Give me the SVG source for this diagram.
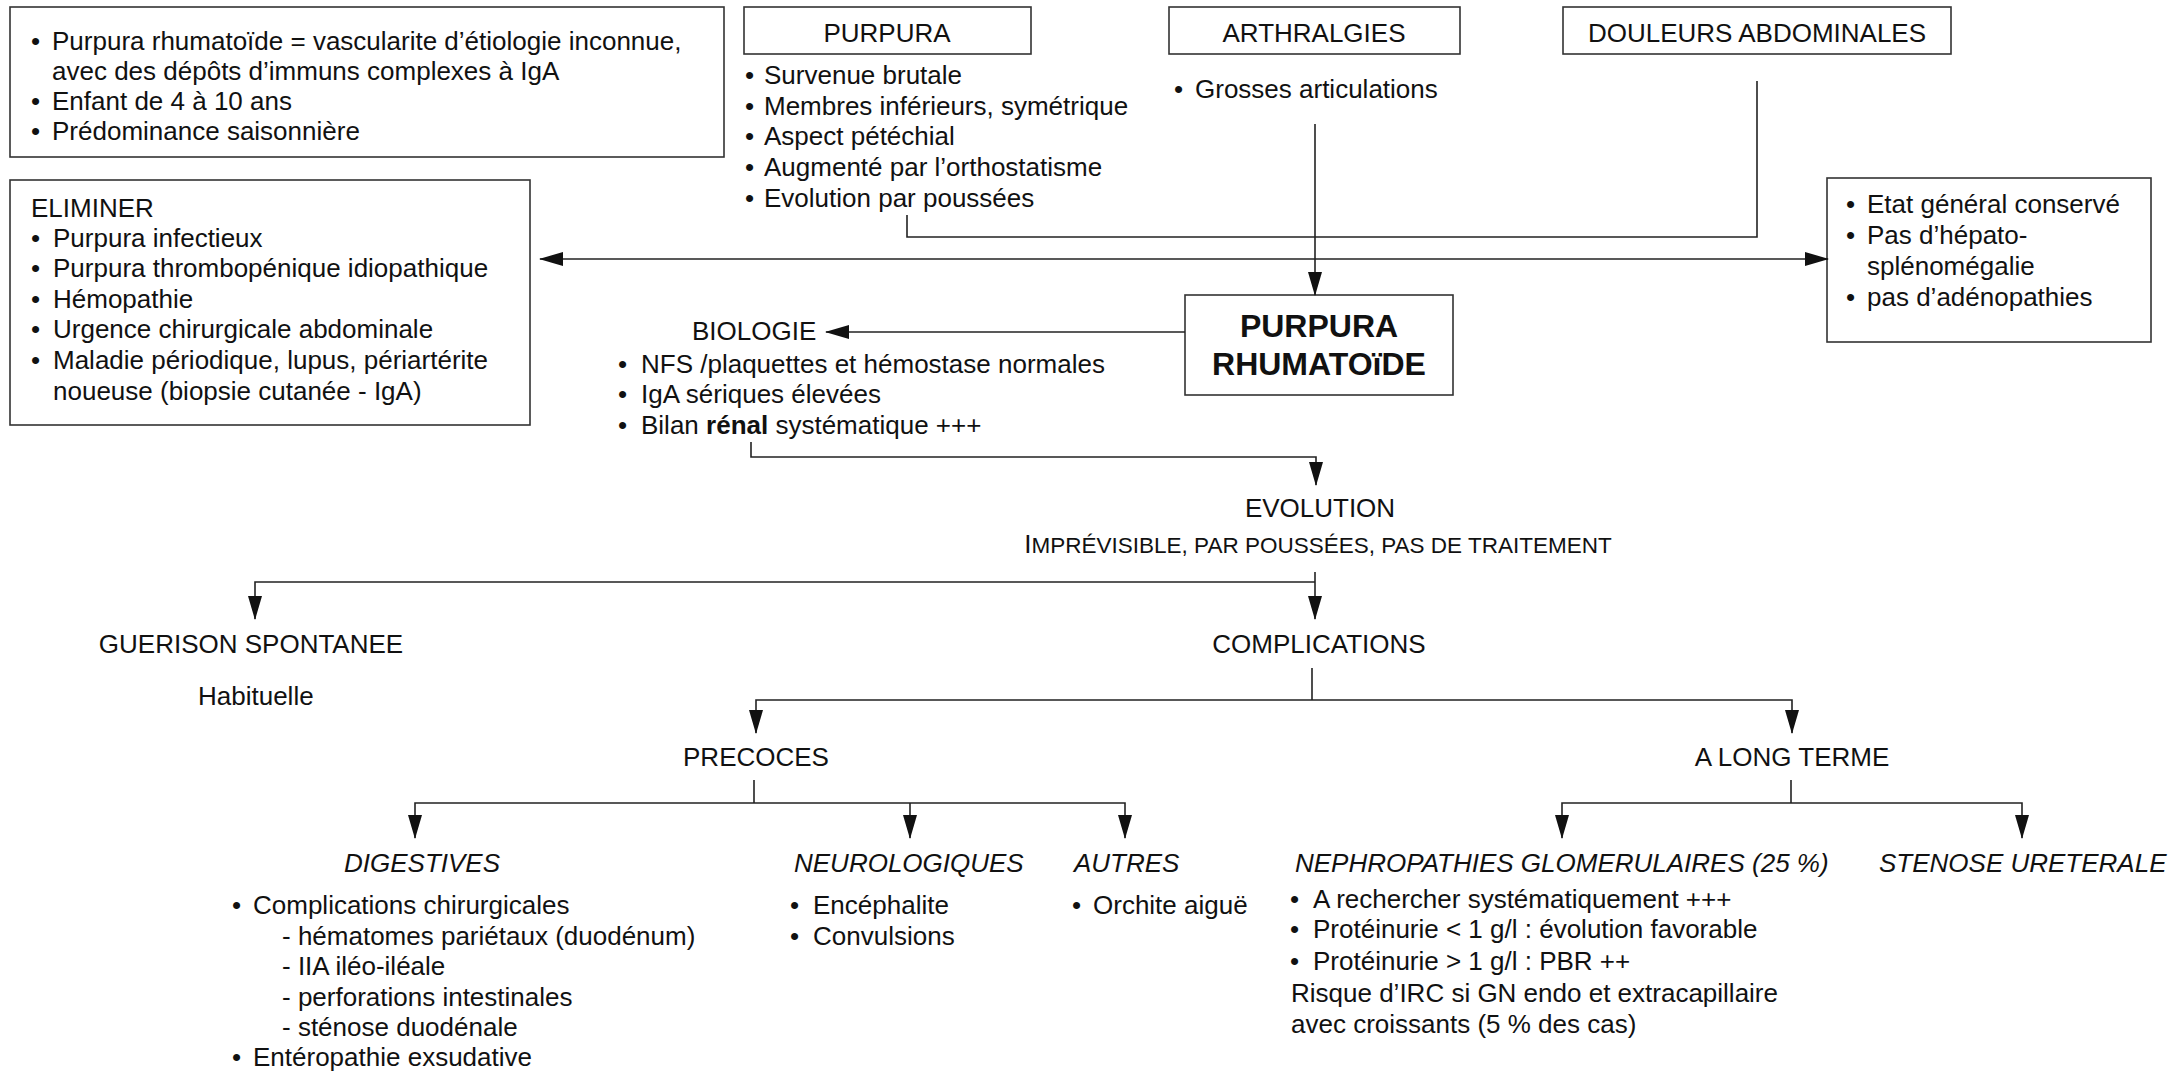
<svg xmlns="http://www.w3.org/2000/svg" width="2181" height="1072" viewBox="0 0 2181 1072">
<style>
.bg{fill:#fff}
.box{fill:#fff;stroke:#333;stroke-width:1.6}
.t{font-family:"Liberation Sans",Arial,sans-serif;font-size:26px;fill:#111}
.m{text-anchor:middle}
.i{font-style:italic}
.b{font-weight:bold}
.big{font-size:32px;font-weight:bold}
.c{fill:none;stroke:#222;stroke-width:1.6}
</style>
<defs>
<marker id="ah" markerWidth="24" markerHeight="14" refX="23" refY="7" orient="auto-start-reverse" markerUnits="userSpaceOnUse">
<path d="M0,0 L24,7 L0,14 z" fill="#111"/>
</marker>
</defs>
<rect class="bg" x="0" y="0" width="2181" height="1072"/>

<g id="intro">
<rect class="box" x="10" y="7" width="714" height="150"/>
<text class="t"><tspan x="31" y="50">•</tspan><tspan x="52" y="50">Purpura rhumatoïde = vascularite d’étiologie inconnue,</tspan><tspan x="52" y="80">avec des dépôts d’immuns complexes à IgA</tspan><tspan x="31" y="110">•</tspan><tspan x="52" y="110">Enfant de 4 à 10 ans</tspan><tspan x="31" y="140">•</tspan><tspan x="52" y="140">Prédominance saisonnière</tspan></text>
</g>

<g id="purpura">
<rect class="box" x="744" y="7" width="287" height="47"/>
<text class="t m" x="887" y="42">PURPURA</text>
<text class="t"><tspan x="745" y="84">•</tspan><tspan x="764" y="84">Survenue brutale</tspan><tspan x="745" y="115">•</tspan><tspan x="764" y="115">Membres inférieurs, symétrique</tspan><tspan x="745" y="145">•</tspan><tspan x="764" y="145">Aspect pétéchial</tspan><tspan x="745" y="176">•</tspan><tspan x="764" y="176">Augmenté par l’orthostatisme</tspan><tspan x="745" y="207">•</tspan><tspan x="764" y="207">Evolution par poussées</tspan></text>
</g>

<g id="arthralgies">
<rect class="box" x="1169" y="7" width="291" height="47"/>
<text class="t m" x="1314" y="42">ARTHRALGIES</text>
<text class="t"><tspan x="1174" y="98">•</tspan><tspan x="1195" y="98">Grosses articulations</tspan></text>
</g>

<g id="douleurs">
<rect class="box" x="1563" y="7" width="388" height="47"/>
<text class="t m" x="1757" y="42">DOULEURS ABDOMINALES</text>
</g>

<g id="general">
<rect class="box" x="1827" y="178" width="324" height="164"/>
<text class="t"><tspan x="1846" y="213">•</tspan><tspan x="1867" y="213">Etat général conservé</tspan><tspan x="1846" y="244">•</tspan><tspan x="1867" y="244">Pas d’hépato-</tspan><tspan x="1867" y="275">splénomégalie</tspan><tspan x="1846" y="306">•</tspan><tspan x="1867" y="306">pas d’adénopathies</tspan></text>
</g>

<g id="eliminer">
<rect class="box" x="10" y="180" width="520" height="245"/>
<text class="t"><tspan x="31" y="217">ELIMINER</tspan><tspan x="31" y="247">•</tspan><tspan x="53" y="247">Purpura infectieux</tspan><tspan x="31" y="277">•</tspan><tspan x="53" y="277">Purpura thrombopénique idiopathique</tspan><tspan x="31" y="308">•</tspan><tspan x="53" y="308">Hémopathie</tspan><tspan x="31" y="338">•</tspan><tspan x="53" y="338">Urgence chirurgicale abdominale</tspan><tspan x="31" y="369">•</tspan><tspan x="53" y="369">Maladie périodique, lupus, périartérite</tspan><tspan x="53" y="400">noueuse (biopsie cutanée - IgA)</tspan></text>
</g>

<g id="purpura-rhumatoide">
<rect class="box" x="1185" y="295" width="268" height="100"/>
<text class="t m big" x="1319" y="337">PURPURA</text>
<text class="t m big" x="1319" y="375">RHUMATOïDE</text>
</g>

<g id="biologie">
<text class="t" x="692" y="340">BIOLOGIE</text>
<text class="t"><tspan x="618" y="373">•</tspan><tspan x="641" y="373">NFS /plaquettes et hémostase normales</tspan><tspan x="618" y="403">•</tspan><tspan x="641" y="403">IgA sériques élevées</tspan><tspan x="618" y="434">•</tspan><tspan x="641" y="434">Bilan <tspan class="b">rénal</tspan> systématique +++</tspan></text>
</g>

<g id="evolution">
<text class="t m" x="1320" y="517">EVOLUTION</text>
<text class="t m" x="1318" y="553">I<tspan style="font-size:22.5px">MPRÉVISIBLE, PAR POUSSÉES, PAS DE TRAITEMENT</tspan></text>
</g>

<g id="guerison">
<text class="t m" x="251" y="653">GUERISON SPONTANEE</text>
<text class="t" x="198" y="705">Habituelle</text>
</g>

<g id="complications">
<text class="t m" x="1319" y="653">COMPLICATIONS</text>
</g>

<g id="precoces">
<text class="t m" x="756" y="766">PRECOCES</text>
</g>

<g id="long-terme">
<text class="t m" x="1792" y="766">A LONG TERME</text>
</g>

<g id="digestives">
<text class="t i" x="344" y="872">DIGESTIVES</text>
<text class="t"><tspan x="232" y="914">•</tspan><tspan x="253" y="914">Complications chirurgicales</tspan><tspan x="282" y="945">- hématomes pariétaux (duodénum)</tspan><tspan x="282" y="975">- IIA iléo-iléale</tspan><tspan x="282" y="1006">- perforations intestinales</tspan><tspan x="282" y="1036">- sténose duodénale</tspan><tspan x="232" y="1066">•</tspan><tspan x="253" y="1066">Entéropathie exsudative</tspan></text>
</g>

<g id="neurologiques">
<text class="t i" x="794" y="872">NEUROLOGIQUES</text>
<text class="t"><tspan x="790" y="914">•</tspan><tspan x="813" y="914">Encéphalite</tspan><tspan x="790" y="945">•</tspan><tspan x="813" y="945">Convulsions</tspan></text>
</g>

<g id="autres">
<text class="t i" x="1074" y="872">AUTRES</text>
<text class="t"><tspan x="1072" y="914">•</tspan><tspan x="1093" y="914">Orchite aiguë</tspan></text>
</g>

<g id="nephropathies">
<text class="t i" x="1295" y="872">NEPHROPATHIES GLOMERULAIRES (25 %)</text>
<text class="t"><tspan x="1290" y="908">•</tspan><tspan x="1313" y="908">A rechercher systématiquement +++</tspan><tspan x="1290" y="938">•</tspan><tspan x="1313" y="938">Protéinurie &lt; 1 g/l : évolution favorable</tspan><tspan x="1290" y="970">•</tspan><tspan x="1313" y="970">Protéinurie &gt; 1 g/l : PBR ++</tspan><tspan x="1291" y="1002">Risque d’IRC si GN endo et extracapillaire</tspan><tspan x="1291" y="1033">avec croissants (5 % des cas)</tspan></text>
</g>

<g id="stenose">
<text class="t i" x="1879" y="872">STENOSE URETERALE</text>
</g>

<g id="connectors">
<path class="c" d="M907,215 V237 H1757 V81"/>
<path class="c" d="M540,259 H1828" marker-start="url(#ah)" marker-end="url(#ah)"/>
<path class="c" d="M1315,124 V295" marker-end="url(#ah)"/>
<path class="c" d="M1185,332 H826" marker-end="url(#ah)"/>
<path class="c" d="M751,442 V457 H1316 V485" marker-end="url(#ah)"/>
<path class="c" d="M1315,572 V619" marker-end="url(#ah)"/>
<path class="c" d="M1315,582 H255 V619" marker-end="url(#ah)"/>
<path class="c" d="M1312,668 V700"/>
<path class="c" d="M1312,700 H756 V733" marker-end="url(#ah)"/>
<path class="c" d="M1312,700 H1792 V733" marker-end="url(#ah)"/>
<path class="c" d="M754,780 V803"/>
<path class="c" d="M754,803 H415 V838" marker-end="url(#ah)"/>
<path class="c" d="M910,803 V838" marker-end="url(#ah)"/>
<path class="c" d="M754,803 H1125 V838" marker-end="url(#ah)"/>
<path class="c" d="M1791,780 V803"/>
<path class="c" d="M1791,803 H1562 V838" marker-end="url(#ah)"/>
<path class="c" d="M1791,803 H2022 V838" marker-end="url(#ah)"/>
</g>
</svg>
